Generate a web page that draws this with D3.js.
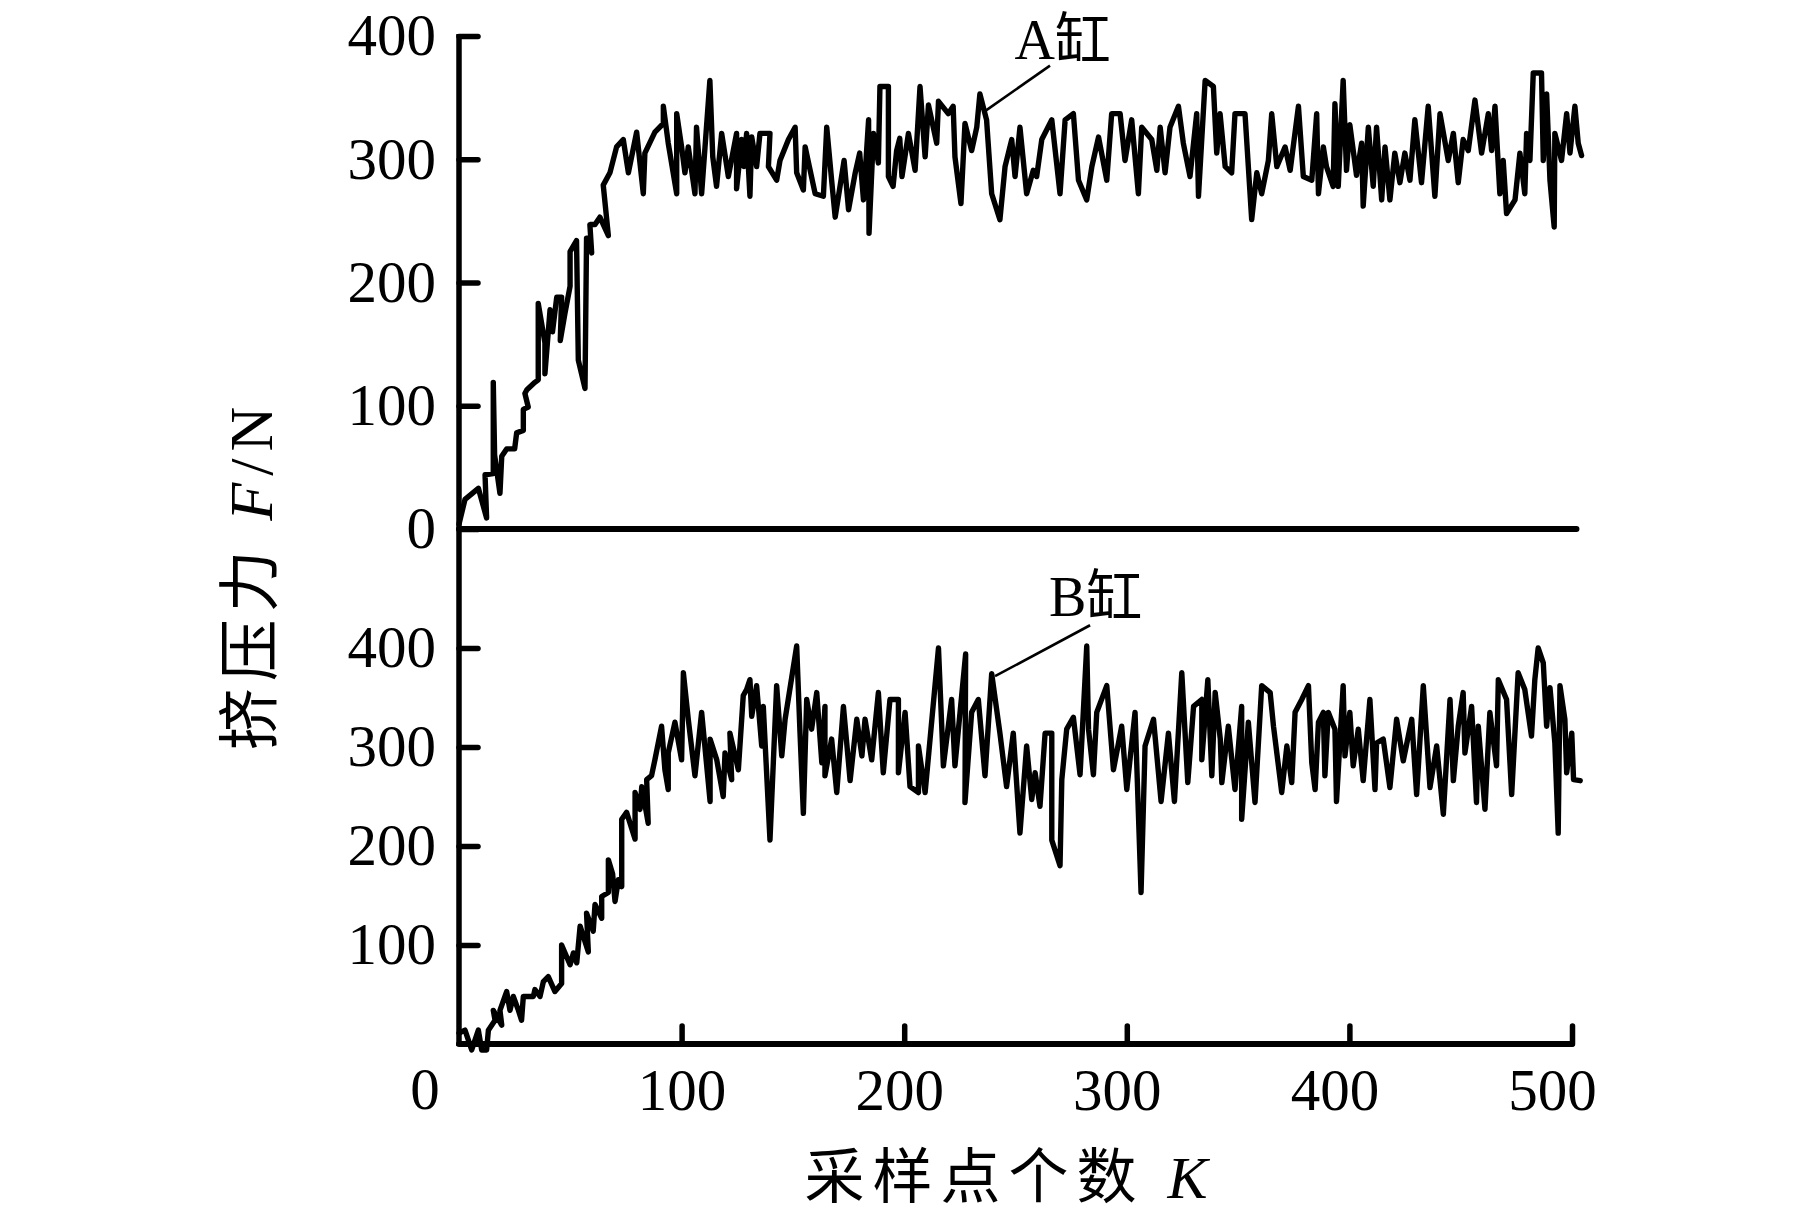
<!DOCTYPE html>
<html>
<head>
<meta charset="utf-8">
<script src="https://cdn.jsdelivr.net/npm/d3@7"></script>
<style>
  html, body { margin: 0; padding: 0; background: #fff; }
  svg { display: block; }
</style>
</head>
<body>
<svg id="chart" width="1819" height="1217"></svg>
<script>
// ---- Data ----
const aK = [0,2.7,8.7,12.4,11.7,15.4,15.4,16,18.4,19.2,21.4,25,25.9,28.9,28.9,31.1,29.6,30.5,34.1,35.6,35.6,38.6,38.6,40.9,42,43.9,46.1,45.5,47.6,49.9,49.9,52.8,53.6,56.6,57.3,58.5,59.6,58.8,61.1,63.3,67.1,64.8,67.8,70.8,73.8,76.1,79.8,82.8,83.5,88,91.8,91.8,94,97.8,97.8,100,101.5,103,106,106.7,109,112.7,114,115.7,118,121,124.7,124.7,127,128,
  129.2,130.7,131.5,133.7,135.2,139.7,139,142.7,144.2,148,151,151.7,154.7,155.5,160,163.7,165.2,167.4,169,173,175,178,180,181.7,184,184.2,186.2,188.4,189.1,192.9,192.9,195,196.6,198,199,201.9,204.9,207.1,209.4,210.9,214.6,215.4,219.8,222,222.8,225.5,227.3,230.3,232.6,234,237,239.3,243,245.3,248.3,249.8,252,255,258,
  259.5,261.8,266.3,270,272.3,276,278.3,282,284.3,287.3,291,293.2,297,299.2,302.2,305.2,306.7,311.2,313.5,315,317.2,319.4,323.2,325.4,328.4,331.4,332.2,335.2,338.9,340.4,341.9,344.2,347.1,348.6,353.1,356.1,358.4,360.6,363.6,365.1,367.4,371.1,373.4,377.1,379.3,383.1,385.3,386.1,388.3,
  389.7,392.7,393.5,395,397.2,398.7,400.2,403.2,405.5,406.2,408.5,410.7,412.2,414.5,416,418.2,420.4,422.7,424.9,427.2,429.4,432.4,435.4,438.4,440.7,444.4,446.7,448.9,451.1,453.4,456.4,459.4,462.4,463.9,465.4,467.6,469.1,470.6,474.4,476.6,478.8,479.6,481.1,482.6,486.3,487.1,488.6,490.1,492,492.3,495.3,497.6,499.1,501.3,502.8,504.3];
const aF = [4,24,33,9,44,45,119,60,29,59,65,65,78,80,97,99,110,113,119,121,183,151,126,178,160,188,188,153,175,197,225,234,137,114,236,236,224,247,247,253,238,279,289,310,316,289,322,272,305,322,329,343,313,272,337,310,289,310,272,326,272,364,302,278,321,286,321,276,316,294,
  321,270,318,294,321,321,294,283,299,316,326,289,275,310,272,270,326,283,253,299,259,289,305,267,332,240,321,297,359,359,286,278,307,317,286,321,291,359,302,344,313,347,337,343,302,264,329,307,326,353,332,272,251,294,316,286,326,272,291,
  286,316,332,272,332,337,283,267,294,318,283,337,337,299,332,272,326,316,291,326,289,326,343,313,286,337,270,364,359,305,337,294,289,337,337,251,289,272,299,337,294,310,291,343,286,283,337,272,310,
  294,278,345,278,364,291,328,287,313,262,326,278,326,267,310,267,305,281,305,283,332,281,343,270,337,299,321,281,316,307,348,305,337,307,343,272,299,256,267,305,272,321,299,370,370,299,353,283,245,321,299,337,305,343,313,303];

const bK = [0,2.7,5.7,8.7,10.2,12.4,13.2,16.2,15.4,19.2,18.4,21.4,22.9,24.4,26.7,28.1,28.9,33.4,34.1,36.4,37.9,40.1,43.1,46.1,46.1,49.9,51.4,52.9,54.4,58.1,57.3,60.3,61.1,64.1,64.1,67.1,67.1,69,70.1,71.6,73.1,73.1,75.3,79.1,79.1,81.3,82.1,85,84.3,86.5,88,91,92.5,94,94,97,100,100.8,103,106,109,112.8,112.8,115.8,118.7,119.5,122.5,121.7,125.5,127.7,
  129.2,130.7,131.5,133.7,136,136.7,139.7,142.7,145,146.5,151.7,153.2,154.7,156.2,158.4,160.7,163,164.4,164.4,167.4,169.7,172.7,175.7,178.7,181,182.4,185.4,188.4,190.6,193.6,197.4,197.4,200.4,202.6,206.4,206.4,209.4,215.4,217.6,221.3,222.8,227.6,227.3,230.3,233.3,236.3,239.3,243,246,249,252,255,257.3,
  258.8,261,263.3,266.3,266.3,270,270.8,273,276,279,282,282.8,285,286.5,291,294,297.7,300,303.7,306.4,308.2,312,315.4,318.7,321.4,324.7,327.4,330,333.7,333.7,336.4,338.2,339.7,342,342.7,345.6,348.6,351.6,351.6,354.6,357.6,360.6,364.4,365.9,369.6,371.9,374.1,375.6,378.6,381.6,383.1,384.6,386.1,388.3,
  389,390.5,393.5,394.2,397.2,398,400.2,401.7,404,406.2,409.2,411.5,412.2,415.2,418.2,421.2,424.2,428,430.2,433.2,436.2,439.2,442.2,445.2,446.7,448.9,451.1,451.9,454.9,457.1,457.9,460.9,463.1,466.1,466.9,470.6,472.9,475.8,478.8,481.8,483.3,484.8,487.1,488.6,490.1,492.3,493.8,494.6,496.8,497.6,499.9,500.7,503.7];
const bF = [11,14,-6,14,-6,-6,14,24,34,19,34,53,34,48,34,24,48,48,55,48,63,68,53,61,100,80,92,82,119,93,132,114,141,127,149,153,186,172,144,166,159,227,234,207,254,237,260,223,267,271,287,321,277,257,294,325,287,375,328,271,335,245,308,287,250,294,267,314,277,352,
  358,368,331,362,301,341,206,362,291,328,402,314,233,348,318,355,284,341,271,308,254,341,266,328,291,328,287,355,274,348,348,274,335,260,254,301,254,400,281,348,281,394,244,335,348,271,374,314,260,314,213,301,247,
  274,240,314,314,206,180,267,318,330,272,402,318,272,335,362,277,321,257,335,153,301,328,245,314,245,375,264,341,348,287,368,271,355,308,264,321,257,341,227,325,244,362,355,321,254,301,264,335,348,362,284,257,325,335,
  271,335,318,245,362,291,335,281,318,266,348,257,304,308,259,328,286,328,252,362,259,301,232,348,266,321,355,294,341,244,321,237,335,281,368,348,252,375,358,311,368,400,385,321,360,304,213,362,328,274,314,267,266];

const yTicksTop = [0, 100, 200, 300, 400];
const yTicksBottom = [100, 200, 300, 400];
const xTicks = [100, 200, 300, 400, 500];
const xOriginLabel = "0";

// annotations: [text, textK, textF, lineFromK, lineFromF, lineToK, lineToF]
const annoA = ["A缸", 249.5, 381, 265.5, 376, 236.3, 339];
const annoB = ["B缸", 265, 432, 283.5, 423, 240.8, 371.5];

const xTitle = "采样点个数 ";
const xTitleVar = "K";
const yTitle = "挤压力 ";
const yTitleVar = "F";
const yTitleUnit = "/N";

// ---- Drawing ----
const svg = d3.select("#chart");
const serif = "'Liberation Serif', 'Noto Sans CJK SC', serif";

const x = d3.scaleLinear().domain([0, 500]).range([459, 1572]);
const yA = d3.scaleLinear().domain([0, 400]).range([529, 36]);
const yB = d3.scaleLinear().domain([0, 400]).range([1044, 648]);

const lineA = d3.line().x((d) => x(d[0])).y((d) => yA(d[1]));
const lineB = d3.line().x((d) => x(d[0])).y((d) => yB(d[1]));

// data lines
svg.append("path")
  .datum(d3.zip(aK, aF))
  .attr("d", lineA)
  .attr("fill", "none").attr("stroke", "#000").attr("stroke-width", 5.4)
  .attr("stroke-linejoin", "round").attr("stroke-linecap", "round");

svg.append("path")
  .datum(d3.zip(bK, bF))
  .attr("d", lineB)
  .attr("fill", "none").attr("stroke", "#000").attr("stroke-width", 5.4)
  .attr("stroke-linejoin", "round").attr("stroke-linecap", "round");

// y axes (ticks inward)
function styleAxis(g) {
  g.select(".domain").remove();
  g.selectAll(".tick line").attr("stroke", "#000").attr("stroke-width", 5.5).attr("stroke-linecap", "round");
  g.selectAll(".tick text").attr("fill", "#000").attr("font-family", serif).attr("font-size", 59);
  g.attr("font-size", null).attr("font-family", null);
}

svg.append("g")
  .attr("transform", `translate(${x(0)},0)`)
  .call(d3.axisLeft(yA).tickValues(yTicksTop).tickFormat(d3.format("d"))
    .tickSizeInner(-19).tickSizeOuter(0).tickPadding(23))
  .call(styleAxis);

svg.append("g")
  .attr("transform", `translate(${x(0)},0)`)
  .call(d3.axisLeft(yB).tickValues(yTicksBottom).tickFormat(d3.format("d"))
    .tickSizeInner(-19).tickSizeOuter(0).tickPadding(23))
  .call(styleAxis);

// x axis (bottom)
svg.append("g")
  .attr("transform", `translate(0,${yB(0)})`)
  .call(d3.axisBottom(x).tickValues(xTicks).tickFormat(d3.format("d"))
    .tickSizeInner(-18).tickSizeOuter(0).tickPadding(24))
  .call(styleAxis)
  .call((g) => g.selectAll(".tick text").attr("dx", (d) => -(d - 100) / 20));

svg.append("text")
  .attr("x", x(0) - 34).attr("y", yB(0)).attr("dy", "1.11em")
  .attr("text-anchor", "middle")
  .attr("font-family", serif).attr("font-size", 59)
  .text(xOriginLabel);

// axis lines
svg.append("line")
  .attr("x1", x(0)).attr("x2", x(0)).attr("y1", yA(400) - 2).attr("y2", yB(0) + 2)
  .attr("stroke", "#000").attr("stroke-width", 5.5);
svg.append("line")
  .attr("x1", x(0)).attr("x2", x(502)).attr("y1", yA(0)).attr("y2", yA(0))
  .attr("stroke", "#000").attr("stroke-width", 6).attr("stroke-linecap", "round");
svg.append("line")
  .attr("x1", x(0)).attr("x2", x(500)).attr("y1", yB(0)).attr("y2", yB(0))
  .attr("stroke", "#000").attr("stroke-width", 6).attr("stroke-linecap", "round");

// annotations
function annotate(a, ys) {
  svg.append("line")
    .attr("x1", x(a[3])).attr("y1", ys(a[4]))
    .attr("x2", x(a[5])).attr("y2", ys(a[6]))
    .attr("stroke", "#000").attr("stroke-width", 2.6);
  svg.append("text")
    .attr("x", x(a[1])).attr("y", ys(a[2]))
    .attr("font-family", serif).attr("font-size", 56)
    .text(a[0]);
}
annotate(annoA, yA);
annotate(annoB, yB);

// axis titles
const xt = svg.append("text")
  .attr("x", 1010).attr("y", 1198)
  .attr("text-anchor", "middle")
  .attr("font-family", serif).attr("font-size", 60)
  .attr("letter-spacing", 8);
xt.append("tspan").text(xTitle);
xt.append("tspan").attr("font-style", "italic").text(xTitleVar);

const yt = svg.append("text")
  .attr("transform", "translate(272,575) rotate(-90)")
  .attr("text-anchor", "middle")
  .attr("font-family", serif).attr("font-size", 62)
  .attr("letter-spacing", 7);
yt.append("tspan").text(yTitle);
yt.append("tspan").attr("font-style", "italic").text(yTitleVar);
yt.append("tspan").text(yTitleUnit);
</script>
</body>
</html>
